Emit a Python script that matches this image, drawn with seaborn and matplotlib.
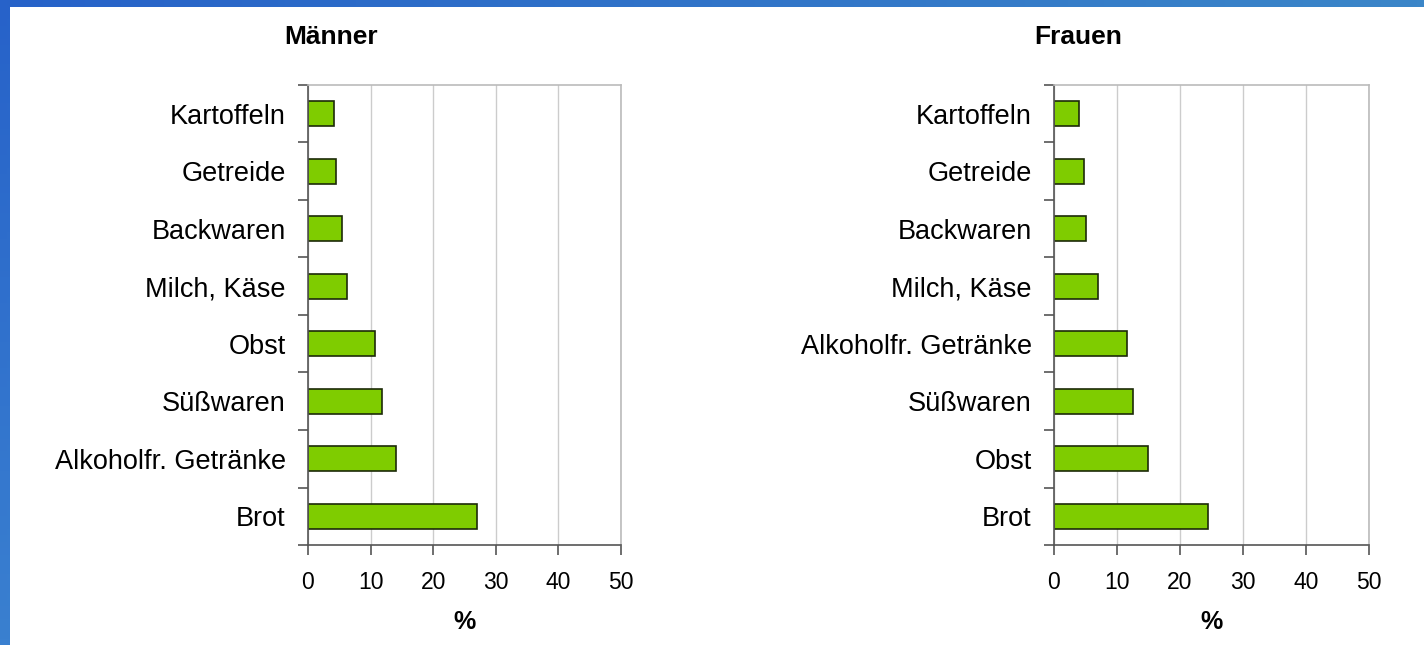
import matplotlib
matplotlib.use("Agg")
import matplotlib.pyplot as plt
import seaborn as sns
import numpy as np
import pandas as pd
from matplotlib.patches import Rectangle
from matplotlib.ticker import FixedLocator

# Data
maenner_categories = ["Kartoffeln", "Getreide", "Backwaren", "Milch, Käse", "Obst",
                      "Süßwaren", "Alkoholfr. Getränke", "Brot"]
maenner_values = [4.2, 4.4, 5.4, 6.3, 10.7, 11.9, 14.0, 27.0]

frauen_categories = ["Kartoffeln", "Getreide", "Backwaren", "Milch, Käse",
                     "Alkoholfr. Getränke", "Süßwaren", "Obst", "Brot"]
frauen_values = [3.9, 4.7, 5.1, 7.0, 11.6, 12.6, 14.9, 24.5]

x_ticks = [0, 10, 20, 30, 40, 50]
titles = ["Männer", "Frauen"]
x_label = "%"

sns.set_theme(style="white")
plt.rcParams['font.family'] = ['Liberation Sans', 'DejaVu Sans']
plt.rcParams['text.color'] = 'black'
plt.rcParams['xtick.color'] = '#555555'
plt.rcParams['ytick.color'] = '#555555'
plt.rcParams['xtick.labelcolor'] = 'black'
plt.rcParams['ytick.labelcolor'] = 'black'
plt.rcParams['axes.labelcolor'] = 'black'

W, H = 1424, 645
fig = plt.figure(figsize=(W / 100, H / 100), dpi=100)

# background gradient border
bg = fig.add_axes([0, 0, 1, 1], zorder=-10)
gx = np.linspace(0, 1, 200)
gy = np.linspace(0, 1, 100)
GX, GY = np.meshgrid(gx, gy)
c0 = np.array([0x27, 0x62, 0xc9]) / 255
c1 = np.array([0x3b, 0x86, 0xc8]) / 255
c2 = np.array([0x3a, 0x80, 0xd0]) / 255
img = c0[None, None, :] + (c1 - c0)[None, None, :] * GX[..., None] + (c2 - c0)[None, None, :] * GY[..., None]
bg.imshow(np.clip(img, 0, 1), extent=[0, 1, 0, 1], aspect='auto', origin='upper')
bg.add_patch(Rectangle((10 / W, 0), 1, 1 - 7 / H, facecolor='white', edgecolor='none'))
bg.set_xlim(0, 1)
bg.set_ylim(0, 1)
bg.axis('off')

bar_color = "#7fcc00"
edge_color = "#1c2a08"

panels = [
    (maenner_categories, maenner_values, [308 / W, 1 - 545 / H, 313 / W, 460 / H], 331),
    (frauen_categories, frauen_values, [1054 / W, 1 - 545 / H, 315 / W, 460 / H], 1078),
]

for (cats, vals, rect, tx), title in zip(panels, titles):
    ax = fig.add_axes(rect)
    df = pd.DataFrame({"cat": cats, "val": vals})
    sns.barplot(data=df, x="val", y="cat", orient="h", order=cats, color=bar_color,
                edgecolor=edge_color, linewidth=1.2, width=0.44, saturation=1, ax=ax)
    ax.set_xlim(0, 50)
    ax.set_ylim(len(cats) - 0.5, -0.5)
    ax.set_xticks(x_ticks)
    ax.set_xticklabels([str(t) for t in x_ticks], fontsize=16.5)
    ax.xaxis.grid(True, color="#cccccc", linewidth=1)
    ax.set_axisbelow(True)
    ax.yaxis.set_major_locator(FixedLocator(list(range(len(cats)))))
    ax.set_yticklabels(cats, fontsize=19.5)
    ax.yaxis.set_minor_locator(FixedLocator([i - 0.5 for i in range(len(cats) + 1)]))
    ax.tick_params(axis='y', which='major', left=True, length=0, pad=16)
    ax.tick_params(axis='y', which='minor', left=True, length=7, width=1.2, color="#555555", direction='out')
    ax.tick_params(axis='x', which='major', bottom=True, length=7, width=1.2, color="#555555", direction='out', pad=12)
    ax.set_ylabel("")
    ax.set_xlabel(x_label, fontsize=18, fontweight='bold', labelpad=11)
    for s in ["top", "right"]:
        ax.spines[s].set_color("#bbbbbb")
        ax.spines[s].set_linewidth(1.2)
    for s in ["left", "bottom"]:
        ax.spines[s].set_color("#555555")
        ax.spines[s].set_linewidth(1.2)
    fig.text(tx / W, 1 - 37 / H, title, fontsize=19, fontweight='bold', ha='center', va='center')

fig.savefig("out.png", dpi=100)
